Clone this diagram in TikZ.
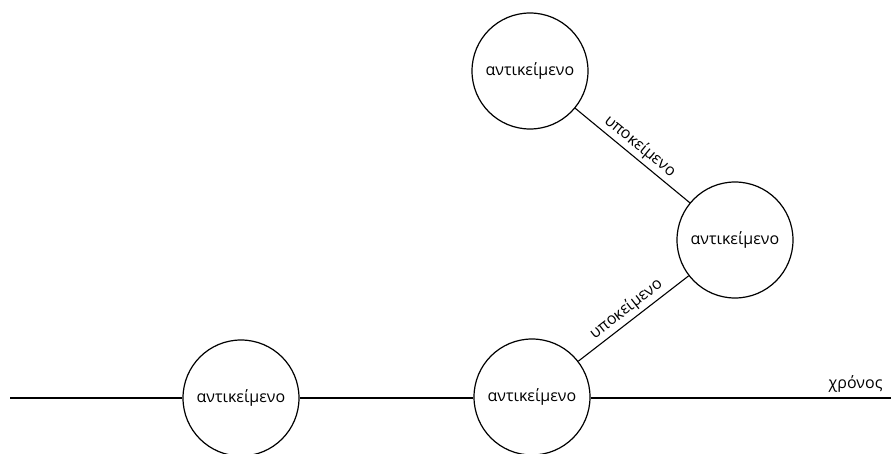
\documentclass[tikz,border=0pt]{standalone}
\usepackage{fontspec}
\setmainfont{Open Sans}
\begin{document}
\begin{tikzpicture}[x=1pt,y=-1pt,
  txt/.style={font=\fontsize{16}{19}\selectfont},
  obj/.style={circle,draw,line width=1.2pt,fill=white,minimum size=116pt,inner sep=0pt,txt},
  link/.style={line width=1.1pt},
  timeline/.style={line width=2.2pt},
  lbl/.style={sloped,above,txt,inner sep=3pt}]
\useasboundingbox (0,0) rectangle (891,454);
% objects
\node[obj] (top) at (530,71) {αντικείμενο};
\node[obj] (mid) at (735,240) {αντικείμενο};
\node[obj] (bot) at (532,397) {αντικείμενο};
\node[obj] (left) at (241,398) {αντικείμενο};
% time axis
\coordinate (tstart) at (10,398);
\coordinate (tend) at (891,398);
\draw[timeline] (tstart) -- (left.west);
\draw[timeline] (left.east) -- (left.east -| bot.west);
\draw[timeline] (bot.east |- tend) -- (tend);
\node[anchor=base east,txt] (time) at (886,388) {χρόνος};
% subject links
\draw[link] (top) -- node[lbl] {υποκείμενο} (mid);
\draw[link] (bot) -- node[lbl] {υποκείμενο} (mid);
\end{tikzpicture}
\end{document}
